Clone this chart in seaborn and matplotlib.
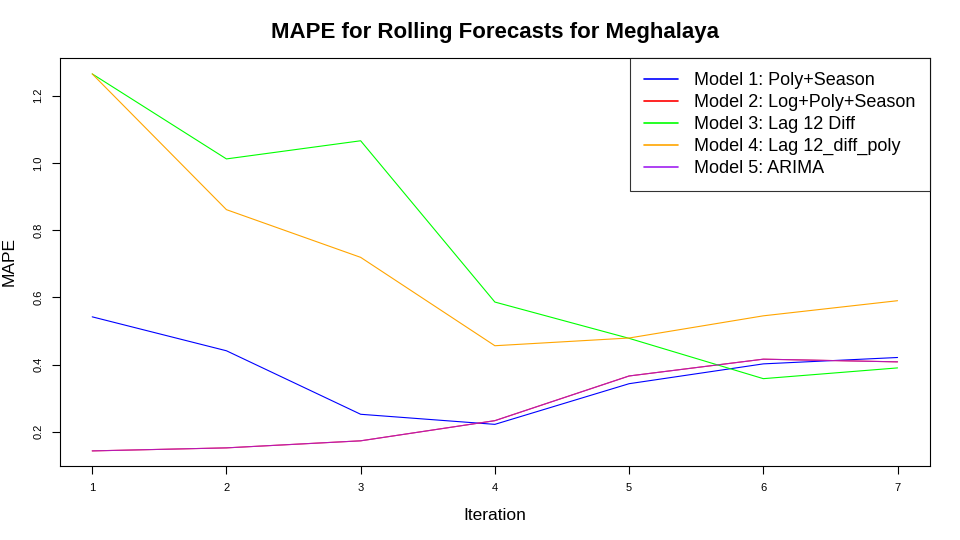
import pandas as pd
import matplotlib
matplotlib.use("Agg")
import matplotlib.pyplot as plt
import seaborn as sns

# MAPE values
iterations = [1, 2, 3, 4, 5, 6, 7]
model1 = [0.542, 0.441, 0.252, 0.222, 0.343, 0.402, 0.421]
model2 = [0.143, 0.152, 0.173, 0.233, 0.366, 0.416, 0.408]
model3 = [1.265, 1.012, 1.066, 0.586, 0.478, 0.358, 0.390]
model4 = [1.265, 0.861, 0.719, 0.456, 0.479, 0.545, 0.590]
model5 = [0.143, 0.152, 0.173, 0.233, 0.366, 0.416, 0.408]

labels = ["Model 1: Poly+Season", "Model 2: Log+Poly+Season", "Model 3: Lag 12 Diff",
          "Model 4: Lag 12_diff_poly", "Model 5: ARIMA"]
colors = ["#0000FF", "#FF0000", "#00FF00", "#FFA500", "#A020F0"]

df = pd.concat([pd.DataFrame({"Iteration": iterations, "MAPE": vals, "Model": lab})
                for vals, lab in zip([model1, model2, model3, model4, model5], labels)])

sns.set_style("white")
plt.rcParams["font.family"] = ["Liberation Sans", "DejaVu Sans"]
plt.rcParams["text.color"] = "black"
plt.rcParams["axes.labelcolor"] = "black"

fig = plt.figure(figsize=(9.6, 5.4), dpi=100)
ax = fig.add_axes([0.0625, 0.137, 0.906, 0.756])

sns.lineplot(data=df, x="Iteration", y="MAPE", hue="Model", hue_order=labels,
             palette=dict(zip(labels, colors)), linewidth=0.8, ax=ax, legend=False)
# ARIMA sits on top of model 2, let the red show through a bit
ax.lines[-1].set_alpha(0.75)

ax.set_xlim(0.76, 7.24)
ax.set_ylim(0.098, 1.313)
ax.set_xticks(iterations)
ax.set_yticks([0.2, 0.4, 0.6, 0.8, 1.0, 1.2])
ax.tick_params(axis="both", direction="out", length=6, width=0.8, labelsize=8,
               bottom=True, left=True, colors="black", pad=6)
for lab in ax.get_yticklabels():
    lab.set_rotation(90)
    lab.set_va("center")
for s in ax.spines.values():
    s.set_color("black")
    s.set_linewidth(0.8)

ax.set_xlabel("Iteration", fontsize=12.5, labelpad=11)
ax.set_ylabel("MAPE", fontsize=12.5, labelpad=12)
ax.set_title("MAPE for Rolling Forecasts for Meghalaya", fontsize=16, fontweight="bold",
             pad=14, color="black")

handles = [plt.Line2D([], [], color=c, linewidth=1.2) for c in colors]
leg = ax.legend(handles, labels, loc="upper right", fontsize=13, frameon=True, fancybox=False,
                borderaxespad=0, handlelength=1.85, handletextpad=0.9, labelspacing=0.27,
                borderpad=0.8)
leg.get_frame().set_edgecolor("black")
leg.get_frame().set_linewidth(0.8)

fig.savefig("out.png", dpi=100)
